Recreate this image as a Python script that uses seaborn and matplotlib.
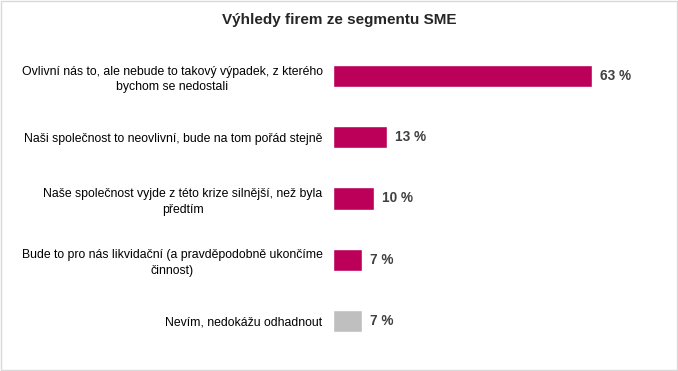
import matplotlib.pyplot as plt
import seaborn as sns
import pandas as pd
from matplotlib.patches import Rectangle

categories = [
    "Ovlivní nás to, ale nebude to takový výpadek, z kterého\nbychom se nedostali",
    "Naši společnost to neovlivní, bude na tom pořád stejně",
    "Naše společnost vyjde z této krize silnější, než byla\npředtím",
    "Bude to pro nás likvidační (a pravděpodobně ukončíme\nčinnost)",
    "Nevím, nedokážu odhadnout",
]
values = [63, 13, 10, 7, 7]
colors = ["#BC005A", "#BC005A", "#BC005A", "#BC005A", "#BFBFBF"]

df = pd.DataFrame({"cat": categories, "val": values})

sns.set_style("white")
plt.rcParams["font.family"] = ["Liberation Sans", "DejaVu Sans"]

fig = plt.figure(figsize=(6.78, 3.71), dpi=100)
ax = fig.add_axes([0.4912, 0.0526, 0.4823, 0.8248])

sns.barplot(data=df, x="val", y="cat", hue="cat", palette=colors,
            legend=False, width=0.36, ax=ax, saturation=1)

ax.set_xlim(0, 79.5)
ax.set_ylim(4.5, -0.5)
ax.set_xlabel("")
ax.set_ylabel("")
ax.set_xticks([])
sns.despine(ax=ax, left=True, bottom=True)
ax.tick_params(axis="y", length=0, pad=7.5, labelsize=8.8, labelcolor="#000000")
for lbl in ax.get_yticklabels():
    lbl.set_multialignment("center")
    lbl.set_linespacing(1.4)

for i, v in enumerate(values):
    ax.text(v + 2, i, f"{v} %", va="center", ha="left",
            fontsize=9.8, fontweight="bold", color="#404040")

fig.suptitle("Výhledy firem ze segmentu SME", x=0.5, y=0.965,
             fontsize=11, fontweight="bold")

fig.patches.append(Rectangle((0.002, 0.003), 0.996, 0.994, transform=fig.transFigure,
                             fill=False, edgecolor="#D9D9D9", linewidth=1))

fig.savefig("out.png", dpi=100)
